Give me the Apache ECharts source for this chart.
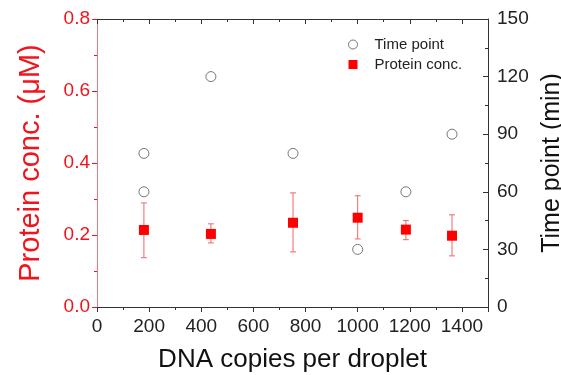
<!DOCTYPE html>
<html><head><meta charset="utf-8">
<script src="https://cdn.jsdelivr.net/npm/echarts@6/dist/echarts.min.js"></script>
<style>html,body{margin:0;padding:0;background:#fff}#c{width:561px;height:375px}</style>
</head><body><div id="c"></div>
<script>
var timeX = [180, 180, 437, 752, 1000, 1185, 1362];
var timeY = [80, 60, 120, 80, 30, 60, 90];
var protX = [180, 437, 752, 1000, 1185, 1362];
var protY = [0.214, 0.203, 0.234, 0.248, 0.215, 0.198];
var protLow = [0.137, 0.178, 0.153, 0.189, 0.187, 0.142];
var protHigh = [0.289, 0.231, 0.317, 0.309, 0.240, 0.256];

var RED = '#f0141c';
var font = 'Liberation Sans, Arial, sans-serif';
var chart = echarts.init(document.getElementById('c'));
var timeData = timeX.map(function(x,i){return [x, timeY[i]];});
var protData = protX.map(function(x,i){return [x, protY[i]];});
var errData = protX.map(function(x,i){return [x, protLow[i], protHigh[i]];});

chart.setOption({
  animation: false,
  textStyle: {fontFamily: font},
  grid: {left: 97, right: 73, top: 19, bottom: 68, containLabel: false, outerBoundsMode: 'none'},
  legend: {
    left: 343, top: 32, orient: 'vertical', itemGap: 5, itemWidth: 9, itemHeight: 9,
    textStyle: {fontSize: 15, color: '#222', fontFamily: font, padding: [0, 0, 0, 12]},
    data: [
      {name: 'Time point', icon: 'circle', itemStyle: {color: '#fff', borderColor: '#555', borderWidth: 1}},
      {name: 'Protein conc.', icon: 'rect', itemStyle: {color: '#ff0000'}}
    ]
  },
  xAxis: [{
    type: 'value', min: 0, max: 1500, interval: 200, position: 'bottom',
    name: 'DNA copies per droplet', nameLocation: 'middle', nameGap: 40,
    nameTextStyle: {fontSize: 26, color: '#111', fontFamily: font},
    axisLine: {onZero: false, lineStyle: {color: '#333', width: 1}},
    axisTick: {inside: false, length: 5, lineStyle: {color: '#333'}},
    minorTick: {show: true, splitNumber: 2, length: 3, lineStyle: {color: '#333'}},
    axisLabel: {fontSize: 19, color: '#222', margin: 10, showMaxLabel: false,
      formatter: function(v){ return v % 200 === 0 ? String(v) : ''; }},
    splitLine: {show: false}
  }, {
    type: 'value', min: 0, max: 1500, interval: 200, position: 'top',
    axisLine: {show: true, onZero: false, lineStyle: {color: '#333', width: 1}},
    axisTick: {inside: true, length: 5, lineStyle: {color: '#333'}},
    minorTick: {show: true, splitNumber: 2, length: 3, lineStyle: {color: '#333'}},
    axisLabel: {show: false}, splitLine: {show: false}
  }],
  yAxis: [{
    type: 'value', min: 0, max: 0.8, interval: 0.2, position: 'left',
    name: 'Protein conc. (\u03bcM)', nameLocation: 'middle', nameGap: 52,
    nameTextStyle: {fontSize: 29, color: RED, fontFamily: font},
    axisLine: {show: true, onZero: false, lineStyle: {color: '#f07a7e', width: 1}},
    axisTick: {inside: false, length: 5, lineStyle: {color: RED}},
    minorTick: {show: true, splitNumber: 2, length: 3, lineStyle: {color: RED}},
    axisLabel: {fontSize: 19, color: RED, margin: 7, formatter: function(v){return v.toFixed(1);}},
    splitLine: {show: false}
  }, {
    type: 'value', min: 0, max: 150, interval: 30, position: 'right',
    name: 'Time point (min)', nameLocation: 'middle', nameGap: 44,
    nameTextStyle: {fontSize: 25, color: '#111', fontFamily: font},
    axisLine: {show: true, onZero: false, lineStyle: {color: '#333', width: 1}},
    axisTick: {inside: true, length: 5, lineStyle: {color: '#333'}},
    minorTick: {show: true, splitNumber: 2, length: 3, lineStyle: {color: '#333'}},
    axisLabel: {fontSize: 19, color: '#222', margin: 9},
    splitLine: {show: false}
  }],
  series: [{
    name: 'Time point', type: 'scatter', xAxisIndex: 0, yAxisIndex: 1,
    symbol: 'circle', symbolSize: 10,
    itemStyle: {color: '#fff', borderColor: '#555', borderWidth: 1},
    data: timeData, z: 3
  }, {
    name: 'Protein conc. err', type: 'custom', xAxisIndex: 0, yAxisIndex: 0,
    data: errData, z: 2,
    renderItem: function(params, api){
      var x = api.value(0);
      var lo = api.coord([x, api.value(1)]);
      var hi = api.coord([x, api.value(2)]);
      var w = 3;
      var st = {stroke: '#f2656a', lineWidth: 1};
      return {type: 'group', children: [
        {type: 'line', shape: {x1: lo[0], y1: lo[1], x2: hi[0], y2: hi[1]}, style: st},
        {type: 'line', shape: {x1: lo[0]-w, y1: lo[1], x2: lo[0]+w, y2: lo[1]}, style: st},
        {type: 'line', shape: {x1: hi[0]-w, y1: hi[1], x2: hi[0]+w, y2: hi[1]}, style: st}
      ]};
    }
  }, {
    name: 'Protein conc.', type: 'scatter', xAxisIndex: 0, yAxisIndex: 0,
    symbol: 'rect', symbolSize: 10,
    itemStyle: {color: '#ff0000', opacity: 1},
    emphasis: {disabled: true},
    data: protData, z: 4
  }]
});
</script></body></html>
